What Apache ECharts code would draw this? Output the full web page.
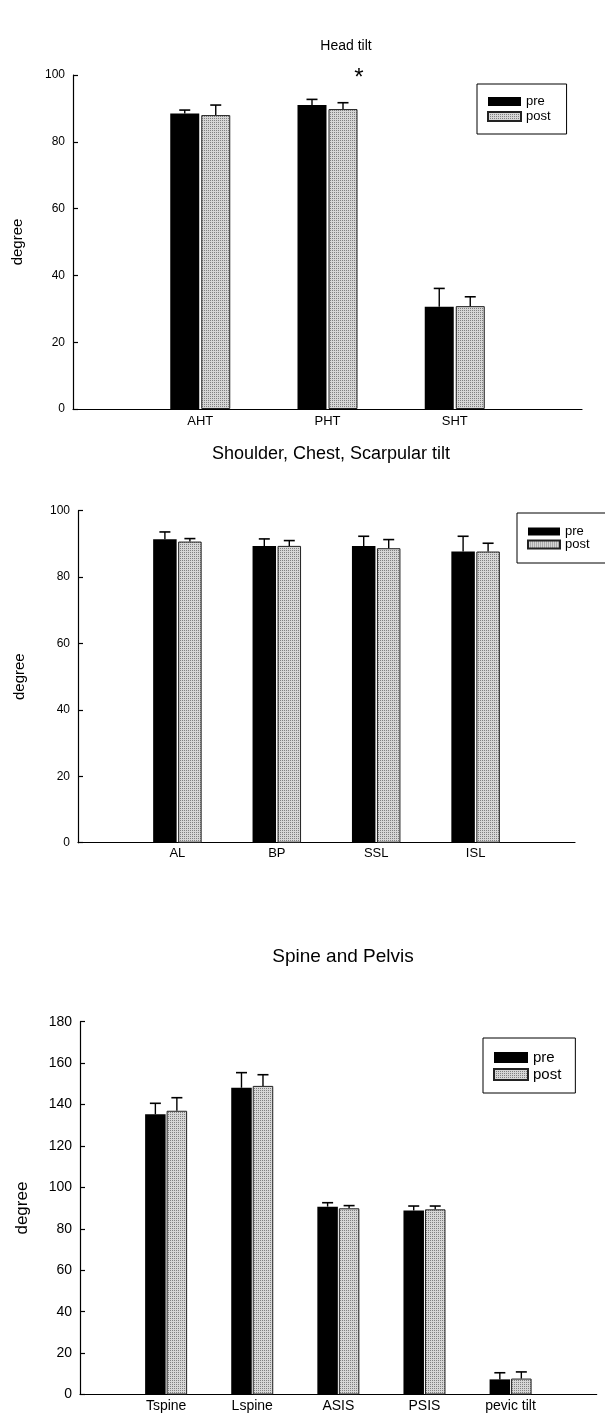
<!DOCTYPE html>
<html>
<head>
<meta charset="utf-8">
<script src="https://cdn.jsdelivr.net/npm/echarts@6/dist/echarts.min.js"></script>
<style>
html,body{margin:0;padding:0;background:#fff;}
#c{width:605px;height:1419px;}
</style>
</head>
<body>
<div id="c"></div>
<script>
// ---------- DATA ----------
const seriesNames = ['pre', 'post'];

const headTitle = 'Head tilt';
const headCats = ['AHT', 'PHT', 'SHT'];
const headPre = [88.5, 91.0, 30.6];
const headPost = [88.0, 89.8, 30.8];
const headPreSD = [1.0, 1.7, 5.5];
const headPostSD = [3.0, 1.9, 2.8];
const headTicks = [0, 20, 40, 60, 80, 100];

const shTitle = 'Shoulder, Chest, Scarpular tilt';
const shCats = ['AL', 'BP', 'SSL', 'ISL'];
const shPre = [91.4, 89.4, 89.4, 87.7];
const shPost = [90.7, 89.4, 88.7, 87.7];
const shPreSD = [2.2, 2.1, 2.9, 4.6];
const shPostSD = [0.9, 1.6, 2.6, 2.5];
const shTicks = [0, 20, 40, 60, 80, 100];

const spTitle = 'Spine and Pelvis';
const spCats = ['Tspine', 'Lspine', 'ASIS', 'PSIS', 'pevic tilt'];
const spPre = [135.3, 148.1, 90.7, 88.8, 7.3];
const spPost = [137.0, 149.0, 89.9, 89.4, 7.7];
const spPreSD = [5.3, 7.3, 1.9, 2.2, 3.2];
const spPostSD = [6.3, 5.4, 1.3, 1.6, 3.2];
const spTicks = [0, 20, 40, 60, 80, 100, 120, 140, 160, 180];

const yName = 'degree';
const sigMark = { text: '*', category: 'PHT', at: 100 };

// ---------- STYLE ----------
const FONT = '"Liberation Sans", Arial, sans-serif';
function makePattern() {
  const c = document.createElement('canvas');
  c.width = 2; c.height = 2;
  const g = c.getContext('2d');
  g.fillStyle = '#d6d6d6'; g.fillRect(0, 0, 2, 2);
  g.fillStyle = '#808080'; g.fillRect(0, 0, 1, 1);
  return c;
}
const pattern = { image: makePattern(), repeat: 'repeat' };

const panels = [
  { title: headTitle, cats: headCats, pre: headPre, post: headPost, preSD: headPreSD, postSD: headPostSD, ticks: headTicks,
    grid: { left: 73, top: 75, right: 23, bottom: 1010 }, barW: 29, gap: 2,
    titleX: 341, titleY: 34, titleSize: 14, tickSize: 12, catSize: 13, nameSize: 15, nameGap: 48, labelMargin: 6,
    legend: { left: 477, top: 84, padding: [11, 16, 11, 10], iw: 33, ih: 9, fs: 13, gap: 2 } },
  { title: shTitle, cats: shCats, pre: shPre, post: shPost, preSD: shPreSD, postSD: shPostSD, ticks: shTicks,
    grid: { left: 78, top: 510.7, right: 30, bottom: 576.3 }, barW: 23.5, gap: 1.5,
    titleX: 326, titleY: 440, titleSize: 18, tickSize: 12, catSize: 13, nameSize: 15, nameGap: 51, labelMargin: 4,
    legend: { left: 517, top: 513, padding: [12, 40, 12, 10], iw: 32, ih: 8, fs: 13, gap: 0 } },
  { title: spTitle, cats: spCats, pre: spPre, post: spPost, preSD: spPreSD, postSD: spPostSD, ticks: spTicks,
    grid: { left: 80, top: 1021.7, right: 8.3, bottom: 24.5 }, barW: 20.5, gap: 1,
    titleX: 338, titleY: 942, titleSize: 19, tickSize: 14, catSize: 14, nameSize: 17, nameGap: 49, labelMargin: 5,
    legend: { left: 483, top: 1038, padding: [12, 14, 11, 10], iw: 34, ih: 11, fs: 15, gap: 2 } }
];

// ---------- BUILD ----------
const option = {
  backgroundColor: '#fff',
  animation: false,
  textStyle: { fontFamily: FONT, color: '#000' },
  title: [], legend: [], grid: [], xAxis: [], yAxis: [], series: []
};

panels.forEach((p, k) => {
  const axisCats = [''].concat(p.cats, ['']);
  const pad = v => [null].concat(v, [null]);
  const ymax = p.ticks[p.ticks.length - 1];
  const step = p.ticks[1] - p.ticks[0];

  option.title.push({
    text: p.title, left: p.titleX, top: p.titleY, textAlign: 'center',
    textStyle: { fontFamily: FONT, fontSize: p.titleSize, fontWeight: 'normal', color: '#000' }
  });
  option.legend.push({
    data: seriesNames, orient: 'vertical', left: p.legend.left, top: p.legend.top,
    padding: p.legend.padding, itemWidth: p.legend.iw, itemHeight: p.legend.ih, itemGap: p.legend.gap,
    borderColor: '#000', borderWidth: 1, borderRadius: 0, backgroundColor: '#fff',
    icon: 'rect', selectedMode: false,
    textStyle: { fontFamily: FONT, fontSize: p.legend.fs, color: '#000', padding: [0, 0, 0, 0] }
  });
  option.grid.push(Object.assign({ containLabel: false }, p.grid));
  option.xAxis.push({
    type: 'category', gridIndex: k, data: axisCats, boundaryGap: false,
    axisLine: { lineStyle: { color: '#000', width: 1.2 } },
    axisTick: { show: false },
    axisLabel: { interval: 0, color: '#000', fontFamily: FONT, fontSize: p.catSize, margin: p.labelMargin },
    splitLine: { show: false }
  });
  option.yAxis.push({
    type: 'value', gridIndex: k, min: 0, max: ymax, interval: step,
    name: yName, nameLocation: 'middle', nameGap: p.nameGap,
    nameTextStyle: { fontFamily: FONT, fontSize: p.nameSize, color: '#000' },
    axisLine: { show: true, lineStyle: { color: '#000', width: 1.2 } },
    axisTick: { show: true, inside: true, length: 5, lineStyle: { color: '#000', width: 1.2 } },
    axisLabel: { color: '#000', fontFamily: FONT, fontSize: p.tickSize, margin: 8 },
    splitLine: { show: false }
  });

  const barGapPct = (p.gap / p.barW * 100).toFixed(1) + '%';
  const preBar = {
    name: 'pre', type: 'bar', xAxisIndex: k, yAxisIndex: k, data: pad(p.pre),
    barWidth: p.barW, barGap: barGapPct,
    itemStyle: { color: '#000' }
  };
  const postBar = {
    name: 'post', type: 'bar', xAxisIndex: k, yAxisIndex: k, data: pad(p.post),
    barWidth: p.barW, barGap: barGapPct,
    itemStyle: { color: pattern, borderColor: '#222', borderWidth: 1 }
  };
  if (k === 0) {
    postBar.markPoint = {
      symbol: 'circle', symbolSize: 0, silent: true,
      data: [{ coord: [sigMark.category, sigMark.at] }],
      label: { show: true, formatter: sigMark.text, color: '#000', fontFamily: FONT, fontSize: 24,
               offset: [16, 3] }
    };
  }
  option.series.push(preBar, postBar);

  const half = (p.barW + p.gap) / 2;
  const mkErr = (means, sds, dir) => ({
    name: (dir < 0 ? 'pre' : 'post') + '-err', type: 'custom', xAxisIndex: k, yAxisIndex: k, z: 5,
    silent: true,
    encode: { x: 0, y: 1 },
    data: means.map((m, i) => [i + 1, m, sds[i]]),
    renderItem: (params, api) => {
      const i = api.value(0), m = api.value(1), sd = api.value(2);
      const a = api.coord([i, m]);
      const b = api.coord([i, m + sd]);
      const x = a[0] + dir * half;
      const cw = 11;
      return {
        type: 'group',
        children: [
          { type: 'line', shape: { x1: x, y1: a[1], x2: x, y2: b[1] }, style: { stroke: '#000', lineWidth: 1.4 } },
          { type: 'line', shape: { x1: x - cw / 2, y1: b[1], x2: x + cw / 2, y2: b[1] }, style: { stroke: '#000', lineWidth: 1.6 } }
        ]
      };
    }
  });
  option.series.push(mkErr(p.pre, p.preSD, -1), mkErr(p.post, p.postSD, 1));
});

const chart = echarts.init(document.getElementById('c'), null, { renderer: 'canvas' });
chart.setOption(option);
</script>
</body>
</html>
